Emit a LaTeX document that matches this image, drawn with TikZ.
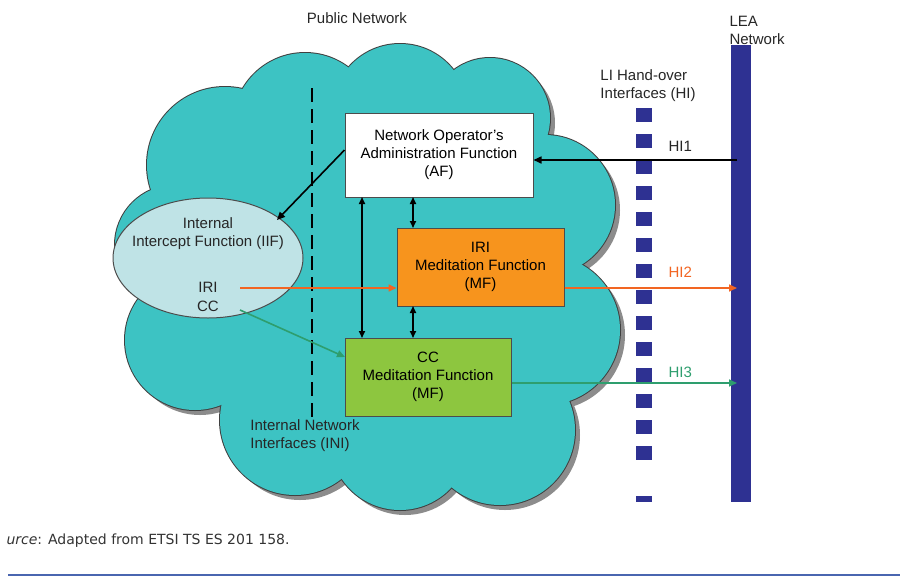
\documentclass[tikz,border=0pt]{standalone}
\usepackage{fontspec}
\setmainfont{Liberation Sans}
\newfontfamily\capfont{DejaVu Sans}
\usetikzlibrary{arrows.meta}
\definecolor{teal}{HTML}{3DC3C3}
\definecolor{iif}{HTML}{BFE3E6}
\definecolor{org}{HTML}{F7941D}
\definecolor{grn}{HTML}{8DC63F}
\definecolor{navy}{HTML}{2E3192}
\definecolor{hitwo}{HTML}{F26522}
\definecolor{hithree}{HTML}{2E9E6E}
\definecolor{rule}{HTML}{4A66B0}
\begin{document}
\begin{tikzpicture}[x=1pt,y=-1pt,
  txt/.style={font=\fontsize{15}{18}\selectfont,align=center,text=black!85},
  box/.style={draw=black!70,line width=1pt,align=center,font=\fontsize{15}{18}\selectfont,inner sep=0pt},
  arr/.style={-{Triangle[length=8pt,width=7pt]},line width=1.6pt},
  darr/.style={{Triangle[length=7pt,width=6pt]}-{Triangle[length=7pt,width=6pt]},line width=1.6pt}]
\useasboundingbox (0,0) rectangle (900,587);
\def\cloud#1{%
 \path[#1] (225,165) circle (78);
 \path[#1] (305,125) circle (72);
 \path[#1] (400,112) circle (68);
 \path[#1] (490,118) circle (60);
 \path[#1] (545,205) circle (70);
 \path[#1] (545,330) circle (75);
 \path[#1] (500,430) circle (75);
 \path[#1] (400,440) circle (70);
 \path[#1] (295,420) circle (75);
 \path[#1] (195,340) circle (70);
 \path[#1] (175,245) circle (60);
 \path[#1] (360,290) circle (160);}
\begin{scope}[shift={(5,5)}]\cloud{fill=black!45}\end{scope}
\cloud{draw=black!75,line width=2pt}
\cloud{fill=teal}
\draw[line width=2.6pt,dash pattern=on 14pt off 7pt] (312,88) -- (312,420);
\node[txt] at (357,18) {Public Network};
\node[txt,align=left] at (757,30) {LEA\\Network};
\node[txt,align=left] at (648,86) {LI Hand-over\\Interfaces (HI)};
\node[txt,align=left] at (305,436) {Internal Network\\Interfaces (INI)};
\fill[navy] (731,45) rectangle (751,502);
\foreach \y in {108,134,...,470} \fill[navy] (636,\y) rectangle (652,\y+14);
\fill[navy] (636,496) rectangle (652,502);
\node[box,fill=white,minimum width=188pt,minimum height=84pt] (af) at (439,155) {Network Operator's\\Administration Function\\(AF)};
\node[box,fill=org,minimum width=167pt,minimum height=78pt] (iri) at (480.5,267) {IRI\\Meditation Function\\(MF)};
\node[box,fill=grn,minimum width=166pt,minimum height=78pt] (cc) at (428,377) {CC\\Meditation Function\\(MF)};
\draw[black!70,line width=1pt,fill=iif] (208,258) ellipse (95 and 60);
\node[txt] (iif) at (208,234) {Internal\\Intercept Function (IIF)};
\node[txt] (irit) at (208,287) {IRI};
\node[txt] (cct) at (208,306) {CC};
\coordinate (lea1) at (737,160);
\coordinate (lea2) at (737,288);
\coordinate (lea3) at (737,383);
\draw[arr] (lea1) -- (af.east |- lea1);
\node[txt,anchor=west] at (665,146) {HI1};
\draw[arr] (af.west |- 0,150) -- (277,220);
\draw[darr] (362,197) -- (362,338);
\draw[darr] (413,197) -- (413,228);
\draw[darr] (413,306) -- (413,338);
\draw[arr,hitwo] (240,288) -- (iri.west |- 0,288);
\draw[arr,hitwo] (iri.east |- 0,288) -- (lea2);
\node[txt,text=hitwo,anchor=west] at (665,272) {HI2};
\draw[arr,hithree] (240,310) -- (345,357);
\draw[arr,hithree] (cc.east |- lea3) -- (lea3);
\node[txt,text=hithree,anchor=west] at (665,372) {HI3};
\node[anchor=west,font=\capfont\fontsize{14}{16}\selectfont,text=black!80] at (3,541) {\textit{urce}: Adapted from ETSI TS ES 201 158.};
\draw[rule,line width=2pt] (8,575) -- (900,575);
\end{tikzpicture}
\end{document}
